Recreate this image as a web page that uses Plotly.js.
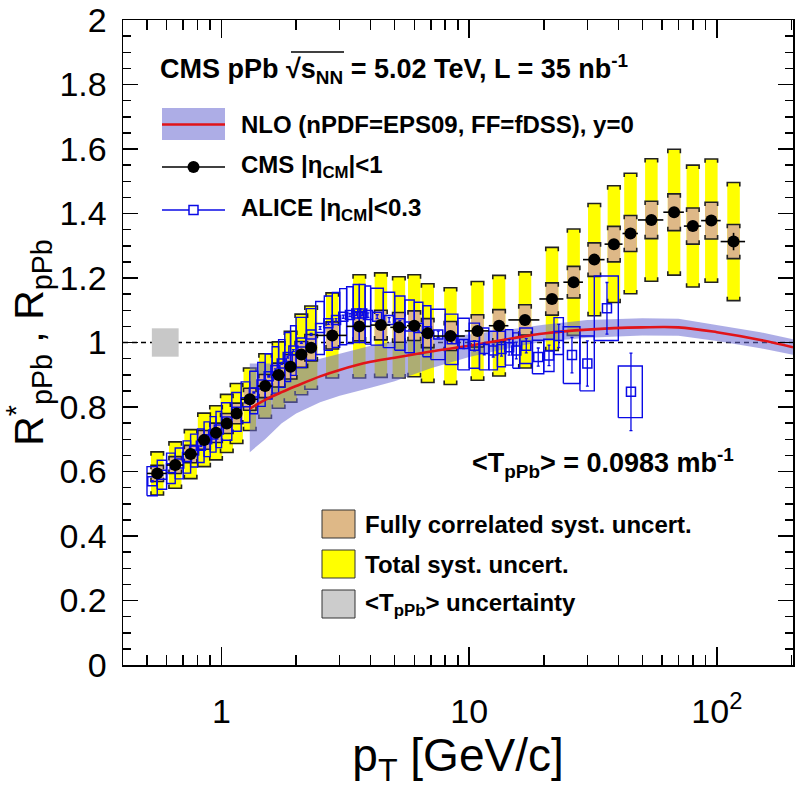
<!DOCTYPE html>
<html><head><meta charset="utf-8">
<script src="https://cdn.plot.ly/plotly-3.0.1.min.js"></script>
<style>html,body{margin:0;padding:0;background:#fff;} #chart{width:796px;height:788px;}</style>
</head><body><div id="chart"></div>
<script>
// ---------------- DATA ----------------
// CMS |eta_CM|<1
const cmsPt    = [0.55,0.65,0.75,0.85,0.95,1.05,1.15,1.3,1.5,1.7,1.9,2.1,2.3,2.8,3.6,4.4,5.2,6.0,6.8,8.4,10.8,13.2,16.8,21.6,26.4,32.0,38.4,44.8,54.4,67.2,80.0,95.0,116.8];
const cmsBinLo = [0.5,0.6,0.7,0.8,0.9,1.0,1.1,1.2,1.4,1.6,1.8,2.0,2.2,2.4,3.2,4.0,4.8,5.6,6.4,7.2,9.6,12.0,14.4,19.2,24.0,28.8,35.2,41.6,48.0,60.8,73.6,86.4,103.6];
const cmsBinHi = [0.6,0.7,0.8,0.9,1.0,1.1,1.2,1.4,1.6,1.8,2.0,2.2,2.4,3.2,4.0,4.8,5.6,6.4,7.2,9.6,12.0,14.4,19.2,24.0,28.8,35.2,41.6,48.0,60.8,73.6,86.4,103.6,130.0];
const cmsR     = [0.594,0.620,0.654,0.698,0.720,0.749,0.780,0.824,0.865,0.899,0.925,0.963,0.984,1.022,1.050,1.054,1.047,1.052,1.029,1.020,1.036,1.052,1.070,1.135,1.187,1.257,1.305,1.338,1.380,1.404,1.361,1.378,1.313];
const cmsStat  = [0.002,0.002,0.002,0.002,0.002,0.002,0.002,0.002,0.002,0.002,0.002,0.002,0.002,0.002,0.002,0.003,0.003,0.003,0.003,0.003,0.004,0.004,0.005,0.006,0.007,0.008,0.009,0.010,0.011,0.012,0.014,0.016,0.027];
const cmsSystTotal = [0.067,0.072,0.076,0.083,0.084,0.090,0.093,0.097,0.100,0.103,0.110,0.125,0.129,0.132,0.160,0.162,0.157,0.158,0.153,0.150,0.153,0.156,0.149,0.160,0.165,0.174,0.181,0.187,0.190,0.195,0.189,0.191,0.183];
const cmsSystCorr  = [0.025,0.026,0.027,0.029,0.030,0.031,0.032,0.034,0.036,0.037,0.038,0.040,0.041,0.042,0.045,0.046,0.046,0.046,0.045,0.045,0.050,0.050,0.047,0.050,0.049,0.052,0.055,0.056,0.058,0.057,0.056,0.057,0.053];

// ALICE |eta_CM|<0.3
const aliceBinLo = [0.5,0.55,0.6,0.65,0.7,0.75,0.8,0.85,0.9,0.95, 1.0,1.1,1.2,1.3,1.4,1.5,1.6,1.7,1.8,1.9, 2.0,2.2,2.4,2.6,2.8,3.0,3.2,3.4,3.6,3.8, 4.0,4.5,5.0,5.5,6.0,6.5,7,8,9, 10,11,12,13,14,15,16,18,20,22, 24,28,32,40];
const aliceBinHi = [0.55,0.6,0.65,0.7,0.75,0.8,0.85,0.9,0.95,1.0, 1.1,1.2,1.3,1.4,1.5,1.6,1.7,1.8,1.9,2.0, 2.2,2.4,2.6,2.8,3.0,3.2,3.4,3.6,3.8,4.0, 4.5,5.0,5.5,6.0,6.5,7,8,9,10, 11,12,13,14,15,16,18,20,22,24, 28,32,40,50];
const aliceR     = [0.570,0.590,0.610,0.625,0.645,0.665,0.680,0.700,0.715,0.730, 0.755,0.785,0.815,0.845,0.870,0.895,0.915,0.935,0.955,0.975, 1.000,1.025,1.045,1.060,1.070,1.080,1.085,1.090,1.090,1.085, 1.080,1.070,1.060,1.050,1.045,1.035,1.025,1.010,0.995, 0.990,0.980,0.975,0.980,0.985,0.975,0.990,0.955,0.960,1.020, 0.961,0.935,1.106,0.847];
const aliceSyst  = [0.045,0.045,0.047,0.048,0.050,0.051,0.052,0.054,0.055,0.056, 0.058,0.060,0.063,0.066,0.068,0.070,0.072,0.074,0.076,0.077, 0.078,0.080,0.082,0.084,0.085,0.087,0.088,0.090,0.090,0.090, 0.088,0.086,0.084,0.082,0.080,0.079,0.078,0.078,0.080, 0.070,0.065,0.060,0.055,0.055,0.055,0.055,0.052,0.050,0.057, 0.088,0.085,0.100,0.080];
const aliceStat  = [0.002,0.002,0.002,0.002,0.002,0.002,0.002,0.002,0.002,0.002, 0.002,0.002,0.002,0.002,0.002,0.002,0.003,0.003,0.003,0.003, 0.003,0.003,0.004,0.004,0.004,0.005,0.005,0.006,0.006,0.007, 0.006,0.007,0.008,0.009,0.010,0.011,0.010,0.012,0.014, 0.016,0.018,0.020,0.022,0.024,0.026,0.022,0.028,0.032,0.036, 0.055,0.070,0.080,0.120];

// NLO (nPDF=EPS09, FF=fDSS), y=0
const nloPt   = [1.3,1.5,1.75,2,2.5,3,4,5,7,10,15,20,30,50,70,100,150,203];
const nloR    = [0.795,0.822,0.846,0.865,0.895,0.915,0.940,0.953,0.972,0.990,1.013,1.028,1.040,1.047,1.047,1.032,1.008,0.985];
const nloLow  = [0.660,0.700,0.750,0.780,0.815,0.835,0.860,0.880,0.920,0.955,0.985,1.003,1.015,1.022,1.021,1.005,0.982,0.962];
const nloHigh = [0.935,0.935,0.935,0.940,0.950,0.965,0.990,1.005,1.015,1.025,1.042,1.055,1.070,1.075,1.074,1.055,1.032,1.010];

// <T_pPb> normalisation uncertainty box at R=1
const tpbPt  = [0.523, 0.671];
const tpbUnc = 0.044;

const xTickVals = [1, 10, 100];
const xTickText = ['1', '10', '10<sup>2</sup>'];
const yTickVals = [0,0.2,0.4,0.6,0.8,1,1.2,1.4,1.6,1.8,2];
const yTickText = ['0','0.2','0.4','0.6','0.8','1','1.2','1.4','1.6','1.8','2'];
const xMinorVals = [0.4,0.5,0.6,0.7,0.8,0.9,2,3,4,5,6,7,8,9,20,30,40,50,60,70,80,90,200];

// ---------------- STYLE ----------------
const FONT = 'Liberation Sans, Arial, Helvetica, sans-serif';
const BOXF = 1.06;       // half-width factor of CMS boxes (log scale)
const CAP = 0.012;       // bracket tick length
const YELLOW = '#ffff00', TAN = '#deb887', GRAYBOX = '#c8c8c8';
const BAND = 'rgba(105,105,210,0.55)', RED = 'rgb(225,20,25)', BLUE = 'rgb(10,10,230)';

function rects(x0, x1, y0, y1) {
  const X = [], Y = [];
  for (let i = 0; i < x0.length; i++) {
    X.push(x0[i], x1[i], x1[i], x0[i], x0[i], null);
    Y.push(y0[i], y0[i], y1[i], y1[i], y0[i], null);
  }
  return {X, Y};
}
function caps(x0, x1, y0, y1) {
  const X = [], Y = [];
  for (let i = 0; i < x0.length; i++) {
    X.push(x0[i], x0[i], x1[i], x1[i], null);
    Y.push(y1[i] - CAP, y1[i], y1[i], y1[i] - CAP, null);
    X.push(x0[i], x0[i], x1[i], x1[i], null);
    Y.push(y0[i] + CAP, y0[i], y0[i], y0[i] + CAP, null);
  }
  return {X, Y};
}

const cx0 = cmsPt.map(v => v / BOXF), cx1 = cmsPt.map(v => v * BOXF);
const yLoT = cmsR.map((v, i) => v - cmsSystTotal[i]), yHiT = cmsR.map((v, i) => v + cmsSystTotal[i]);
const yLoC = cmsR.map((v, i) => v - cmsSystCorr[i]),  yHiC = cmsR.map((v, i) => v + cmsSystCorr[i]);
const yellow = rects(cx0, cx1, yLoT, yHiT), yellowCaps = caps(cx0, cx1, yLoT, yHiT);
const tan = rects(cx0, cx1, yLoC, yHiC), tanCaps = caps(cx0, cx1, yLoC, yHiC);

const aliceX = aliceBinLo.map((v, i) => (v + aliceBinHi[i]) / 2);
const aBox = rects(aliceBinLo, aliceBinHi, aliceR.map((v, i) => v - aliceSyst[i]), aliceR.map((v, i) => v + aliceSyst[i]));
const tpb = rects([tpbPt[0]], [tpbPt[1]], [1 - tpbUnc], [1 + tpbUnc]);

const traces = [
  {x: yellow.X, y: yellow.Y, type: 'scatter', mode: 'lines', fill: 'toself', fillcolor: YELLOW, line: {width: 0, color: YELLOW}, hoverinfo: 'skip', showlegend: false},
  {x: yellowCaps.X, y: yellowCaps.Y, type: 'scatter', mode: 'lines', line: {width: 1.6, color: '#222'}, hoverinfo: 'skip', showlegend: false},
  {x: tpb.X, y: tpb.Y, type: 'scatter', mode: 'lines', fill: 'toself', fillcolor: GRAYBOX, line: {width: 0, color: GRAYBOX}, hoverinfo: 'skip', showlegend: false},
  {x: nloPt.concat(nloPt.slice().reverse()), y: nloHigh.concat(nloLow.slice().reverse()), type: 'scatter', mode: 'lines', fill: 'toself', fillcolor: BAND, line: {width: 0, color: BAND}, hoverinfo: 'skip', showlegend: false},
  {x: tan.X, y: tan.Y, type: 'scatter', mode: 'lines', fill: 'toself', fillcolor: TAN, line: {width: 0, color: TAN}, hoverinfo: 'skip', showlegend: false},
  {x: tanCaps.X, y: tanCaps.Y, type: 'scatter', mode: 'lines', line: {width: 1.6, color: '#222'}, hoverinfo: 'skip', showlegend: false},
  {x: aBox.X, y: aBox.Y, type: 'scatter', mode: 'lines', line: {width: 1.4, color: BLUE}, hoverinfo: 'skip', showlegend: false},
  {x: nloPt, y: nloR, type: 'scatter', mode: 'lines', line: {width: 2.6, color: RED, shape: 'spline'}, showlegend: false},
  {x: aliceX, y: aliceR, type: 'scatter', mode: 'markers',
   marker: {symbol: 'square-open', size: 9, color: BLUE, line: {width: 1.5, color: BLUE}},
   error_y: {type: 'data', array: aliceStat, color: BLUE, thickness: 1.3, width: 1.5}, showlegend: false},
  {x: cmsPt, y: cmsR, type: 'scatter', mode: 'markers',
   marker: {symbol: 'circle', size: 12, color: '#000'},
   error_y: {type: 'data', array: cmsStat, color: '#000', thickness: 1.6, width: 0},
   error_x: {type: 'data', array: cmsBinHi.map((v, i) => v - cmsPt[i]), arrayminus: cmsPt.map((v, i) => v - cmsBinLo[i]), color: '#000', thickness: 1.6, width: 0},
   showlegend: false}
];

// pixel helpers for the hand-drawn legend (plot area 123..793 x 20..665)
const L = 123, T = 20, W = 670, H = 645;
const PX = p => (p - L) / W, PY = p => (T + H - p) / H;

const shapes = [
  {type: 'line', xref: 'paper', yref: 'y', x0: 0, x1: 1, y0: 1, y1: 1, layer: 'below', line: {color: '#000', width: 1.3, dash: '5px,4px'}},
  // sqrt overline
  {type: 'line', xref: 'paper', yref: 'paper', x0: PX(291), x1: PX(344), y0: PY(52), y1: PY(52), line: {color: '#000', width: 1.6}},
  // NLO legend swatch
  {type: 'rect', xref: 'paper', yref: 'paper', x0: PX(162), x1: PX(225), y0: PY(140), y1: PY(108), fillcolor: BAND, line: {width: 0}},
  {type: 'line', xref: 'paper', yref: 'paper', x0: PX(162), x1: PX(225), y0: PY(124.5), y1: PY(124.5), line: {color: RED, width: 2.6}},
  // CMS legend
  {type: 'line', xref: 'paper', yref: 'paper', x0: PX(162), x1: PX(225), y0: PY(167), y1: PY(167), line: {color: '#000', width: 1.6}},
  {type: 'circle', xref: 'paper', yref: 'paper', x0: PX(187.5), x1: PX(199.5), y0: PY(173), y1: PY(161), fillcolor: '#000', line: {width: 0}},
  // ALICE legend
  {type: 'line', xref: 'paper', yref: 'paper', x0: PX(162), x1: PX(225), y0: PY(210), y1: PY(210), line: {color: BLUE, width: 1.5}},
  {type: 'rect', xref: 'paper', yref: 'paper', x0: PX(189), x1: PX(198), y0: PY(214.5), y1: PY(205.5), fillcolor: '#fff', line: {color: BLUE, width: 1.5}},
  // bottom legend swatches
  {type: 'rect', xref: 'paper', yref: 'paper', x0: PX(322), x1: PX(355), y0: PY(538), y1: PY(510), fillcolor: TAN, line: {color: '#333', width: 1}},
  {type: 'rect', xref: 'paper', yref: 'paper', x0: PX(322), x1: PX(355), y0: PY(578), y1: PY(550), fillcolor: YELLOW, line: {color: '#333', width: 1}},
  {type: 'rect', xref: 'paper', yref: 'paper', x0: PX(322), x1: PX(355), y0: PY(618), y1: PY(590), fillcolor: '#cccccc', line: {color: '#333', width: 1}}
];

function txt(text, px, py, size) {
  return {text: text, xref: 'paper', yref: 'paper', x: PX(px), y: PY(py), xanchor: 'left', yanchor: 'middle', showarrow: false,
          font: {family: FONT, size: size, color: '#000', weight: 700}};
}
const annotations = [
  txt('CMS pPb √s<sub>NN</sub> = 5.02 TeV, L = 35 nb<sup>-1</sup>', 158, 69, 27),
  txt('NLO (nPDF=EPS09, FF=fDSS), y=0', 239, 124, 24),
  txt('CMS |η<sub>CM</sub>|&lt;1', 239, 166, 24),
  txt('ALICE |η<sub>CM</sub>|&lt;0.3', 239, 210, 24),
  txt('&lt;T<sub>pPb</sub>&gt; = 0.0983 mb<sup>-1</sup>', 470, 463, 27),
  txt('Fully correlated syst. uncert.', 363, 524, 24),
  txt('Total syst. uncert.', 363, 564, 24),
  txt('&lt;T<sub>pPb</sub>&gt; uncertainty', 363, 604, 24)
];

const layout = {
  width: 796, height: 788,
  margin: {l: L, r: 796 - L - W, t: T, b: 788 - T - H, pad: 0},
  paper_bgcolor: '#fff', plot_bgcolor: '#fff',
  font: {family: FONT, color: '#000'},
  showlegend: false,
  xaxis: {
    type: 'log', range: [Math.log10(0.4), Math.log10(203)],
    tickmode: 'array', tickvals: xTickVals, ticktext: xTickText,
    ticks: 'inside', ticklen: 18, tickwidth: 1.5, tickcolor: '#000',
    minor: {tickmode: 'array', tickvals: xMinorVals, ticks: 'inside', ticklen: 10, tickwidth: 1.5, tickcolor: '#000', showgrid: false},
    showline: true, linecolor: '#000', linewidth: 1.5, mirror: 'ticks',
    showgrid: false, zeroline: false,
    tickfont: {family: FONT, size: 34}, ticklabelstandoff: 16,
    title: {text: 'p<sub>T</sub> [GeV/c]', font: {family: FONT, size: 46}, standoff: 2}
  },
  yaxis: {
    range: [0, 2],
    tickmode: 'array', tickvals: yTickVals, ticktext: yTickText,
    ticks: 'inside', ticklen: 15, tickwidth: 1.5, tickcolor: '#000',
    minor: {dtick: 0.05, ticks: 'inside', ticklen: 8, tickwidth: 1.5, tickcolor: '#000', showgrid: false},
    showline: true, linecolor: '#000', linewidth: 1.5, mirror: 'ticks',
    showgrid: false, zeroline: false,
    tickfont: {family: FONT, size: 34}, ticklabelstandoff: 8,
    title: {text: 'R<sup>*</sup><sub>pPb</sub> , R<sub>pPb</sub>', font: {family: FONT, size: 41}, standoff: 6}
  },
  shapes: shapes,
  annotations: annotations
};

Plotly.newPlot('chart', traces, layout, {displayModeBar: false, staticPlot: true});
</script></body></html>
